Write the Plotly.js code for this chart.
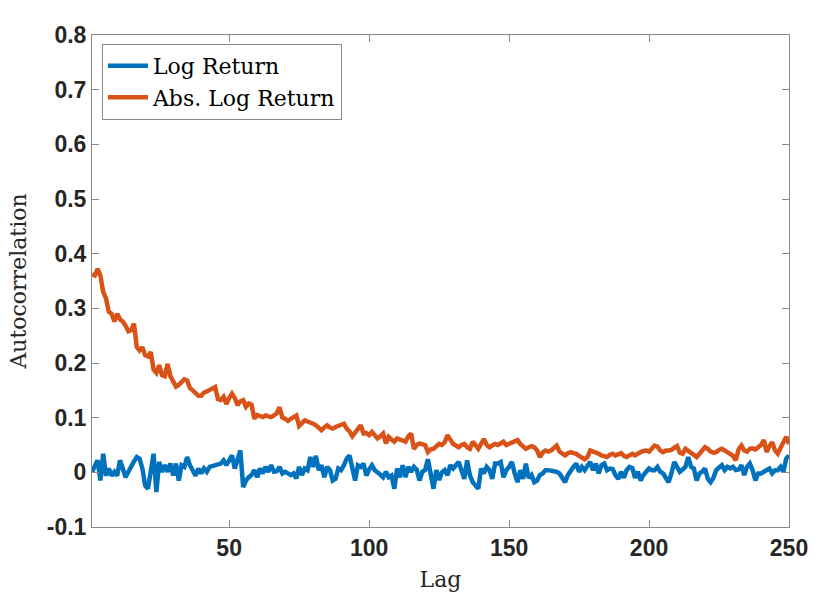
<!DOCTYPE html>
<html>
<head>
<meta charset="utf-8">
<script src="https://cdn.plot.ly/plotly-3.0.1.min.js"></script>
<style>html,body{margin:0;padding:0;background:#fff;}#chart{width:830px;height:605px;}</style>
</head>
<body>
<div id="chart"></div>
<script>
// Autocorrelation of log returns (lags 1..250)
const logReturn = [
0.001,0.013,0.022,-0.015,0.034,-0.006,0.007,-0.006,0.001,-0.006,
0.022,0.007,-0.009,0.001,0.013,0.020,0.028,0.025,0.007,-0.024,
-0.030,0.007,0.034,-0.036,0.019,0.001,0.013,0.001,0.016,-0.006,
0.016,-0.015,0.013,0.010,0.028,0.013,0.004,-0.006,0.007,-0.002,
0.007,0.001,0.010,0.012,0.013,0.014,0.016,0.022,0.013,0.022,
0.031,0.007,0.022,0.040,-0.027,-0.015,-0.009,-0.005,0.004,-0.009,
0.007,-0.002,0.010,0.001,0.013,0.001,0.002,0.010,-0.002,0.001,
-0.002,-0.005,-0.002,-0.011,0.010,-0.005,0.007,0.004,0.028,0.010,
0.030,0.004,0.013,-0.009,0.010,0.004,-0.015,-0.012,0.007,0.004,
0.013,0.025,0.031,0.010,-0.015,0.013,0.010,0.016,-0.006,0.005,
0.013,0.004,0.001,-0.004,-0.009,0.001,-0.009,-0.006,-0.030,0.007,
-0.009,0.013,-0.009,0.010,0.001,0.010,0.005,-0.015,0.001,0.004,
0.024,-0.009,-0.030,0.004,-0.014,0.000,0.004,-0.005,0.013,0.007,
0.013,0.019,0.004,-0.012,0.022,-0.005,-0.018,-0.024,-0.030,0.007,
-0.002,0.010,0.004,-0.012,0.016,0.016,0.019,-0.009,0.004,0.010,
0.019,-0.002,-0.018,0.004,-0.012,0.016,-0.010,-0.005,-0.018,-0.015,
-0.005,-0.002,0.004,0.004,0.004,0.002,0.001,-0.002,-0.010,-0.018,
-0.005,0.004,0.010,0.016,0.001,0.010,0.004,0.012,0.019,0.004,
0.016,-0.002,0.013,0.016,0.004,0.007,0.006,-0.005,-0.012,0.001,
-0.010,0.004,0.010,0.008,-0.010,0.001,-0.015,-0.005,0.001,0.007,
0.004,0.004,0.010,0.001,-0.002,-0.010,-0.018,-0.002,0.019,0.010,
0.001,0.005,0.010,0.028,0.010,0.007,-0.015,-0.002,0.001,0.007,
-0.012,-0.018,-0.010,0.004,0.010,0.013,0.004,0.010,0.007,0.010,
0.004,0.005,0.013,-0.005,0.010,0.016,0.004,-0.015,-0.002,-0.002,
0.001,0.004,0.007,-0.002,0.004,0.004,0.010,0.001,0.025,0.031
];
// Autocorrelation of absolute log returns (lags 1..250)
const absLogReturn = [
0.362,0.360,0.372,0.360,0.330,0.318,0.294,0.290,0.276,0.290,
0.280,0.276,0.268,0.258,0.260,0.272,0.229,0.223,0.229,0.214,
0.212,0.220,0.188,0.182,0.196,0.178,0.176,0.198,0.176,0.164,
0.157,0.160,0.165,0.170,0.168,0.154,0.150,0.144,0.140,0.140,
0.146,0.148,0.150,0.153,0.156,0.134,0.132,0.138,0.125,0.136,
0.144,0.136,0.123,0.130,0.132,0.120,0.126,0.124,0.098,0.105,
0.102,0.101,0.104,0.102,0.101,0.104,0.108,0.119,0.100,0.098,
0.094,0.098,0.101,0.104,0.085,0.090,0.095,0.093,0.092,0.089,
0.086,0.080,0.077,0.082,0.086,0.082,0.080,0.083,0.085,0.087,
0.089,0.080,0.075,0.066,0.072,0.080,0.086,0.071,0.072,0.068,
0.074,0.068,0.062,0.066,0.071,0.053,0.065,0.060,0.056,0.062,
0.060,0.057,0.056,0.066,0.071,0.043,0.050,0.053,0.052,0.050,
0.037,0.042,0.043,0.048,0.052,0.050,0.055,0.068,0.058,0.052,
0.049,0.046,0.050,0.052,0.046,0.043,0.056,0.050,0.043,0.052,
0.061,0.050,0.046,0.049,0.052,0.050,0.053,0.056,0.050,0.052,
0.055,0.057,0.059,0.052,0.046,0.043,0.046,0.048,0.046,0.040,
0.028,0.036,0.040,0.038,0.040,0.046,0.049,0.038,0.034,0.031,
0.035,0.037,0.035,0.034,0.030,0.028,0.024,0.028,0.040,0.038,
0.037,0.034,0.031,0.029,0.028,0.032,0.034,0.031,0.033,0.035,
0.030,0.028,0.031,0.034,0.031,0.035,0.037,0.039,0.040,0.038,
0.043,0.049,0.047,0.040,0.037,0.040,0.040,0.041,0.045,0.048,
0.036,0.034,0.043,0.040,0.037,0.032,0.028,0.035,0.040,0.046,
0.043,0.038,0.036,0.037,0.041,0.043,0.040,0.037,0.034,0.030,
0.022,0.042,0.049,0.040,0.038,0.043,0.044,0.042,0.046,0.050,
0.059,0.037,0.048,0.055,0.040,0.034,0.045,0.055,0.065,0.052
];
const lags = logReturn.map((_, i) => i + 1);
const seriesNames = ['Log Return', 'Abs. Log Return'];
const xTicks = [50, 100, 150, 200, 250];
const yTicks = [-0.1, 0, 0.1, 0.2, 0.3, 0.4, 0.5, 0.6, 0.7, 0.8];
const yTickLabels = ['-0.1', '0', '0.1', '0.2', '0.3', '0.4', '0.5', '0.6', '0.7', '0.8'];

const serif = 'DejaVu Serif, Liberation Serif, serif';

const traces = [
  {x: lags, y: logReturn, name: seriesNames[0], type: 'scatter', mode: 'lines',
   line: {color: '#0072BD', width: 4.5}},
  {x: lags, y: absLogReturn, name: seriesNames[1], type: 'scatter', mode: 'lines',
   line: {color: '#D95319', width: 4.5}}
];

const axisCommon = {
  showline: true, linecolor: '#8a8a8a', linewidth: 1, mirror: 'ticks',
  ticks: 'inside', ticklen: 7, tickcolor: '#8a8a8a', tickwidth: 1,
  showgrid: false, zeroline: false,
  tickfont: {family: 'Liberation Sans, Arial, sans-serif', size: 23, color: '#262626', weight: 'bold'}
};

const layout = {
  width: 830, height: 605,
  margin: {l: 92, r: 41, t: 35, b: 78},
  paper_bgcolor: '#ffffff', plot_bgcolor: '#ffffff',
  showlegend: true,
  xaxis: Object.assign({}, axisCommon, {
    range: [1, 250], tickvals: xTicks, ticktext: xTicks.map(String),
    title: {text: 'Lag', font: {family: serif, size: 22, color: '#262626'}, standoff: 12}
  }),
  yaxis: Object.assign({}, axisCommon, {
    range: [-0.1, 0.8], tickvals: yTicks, ticktext: yTickLabels,
    title: {text: 'Autocorrelation', font: {family: serif, size: 22, color: '#262626'}, standoff: 14}
  }),
  legend: {
    x: 0.0143, y: 0.982, xanchor: 'left', yanchor: 'top',
    bgcolor: '#ffffff', bordercolor: '#8a8a8a', borderwidth: 1,
    font: {family: serif, size: 22, color: '#000000'},
    itemwidth: 40,
    tracegroupgap: 0
  }
};

Plotly.newPlot('chart', traces, layout, {displayModeBar: false, staticPlot: true});
</script>
</body>
</html>
